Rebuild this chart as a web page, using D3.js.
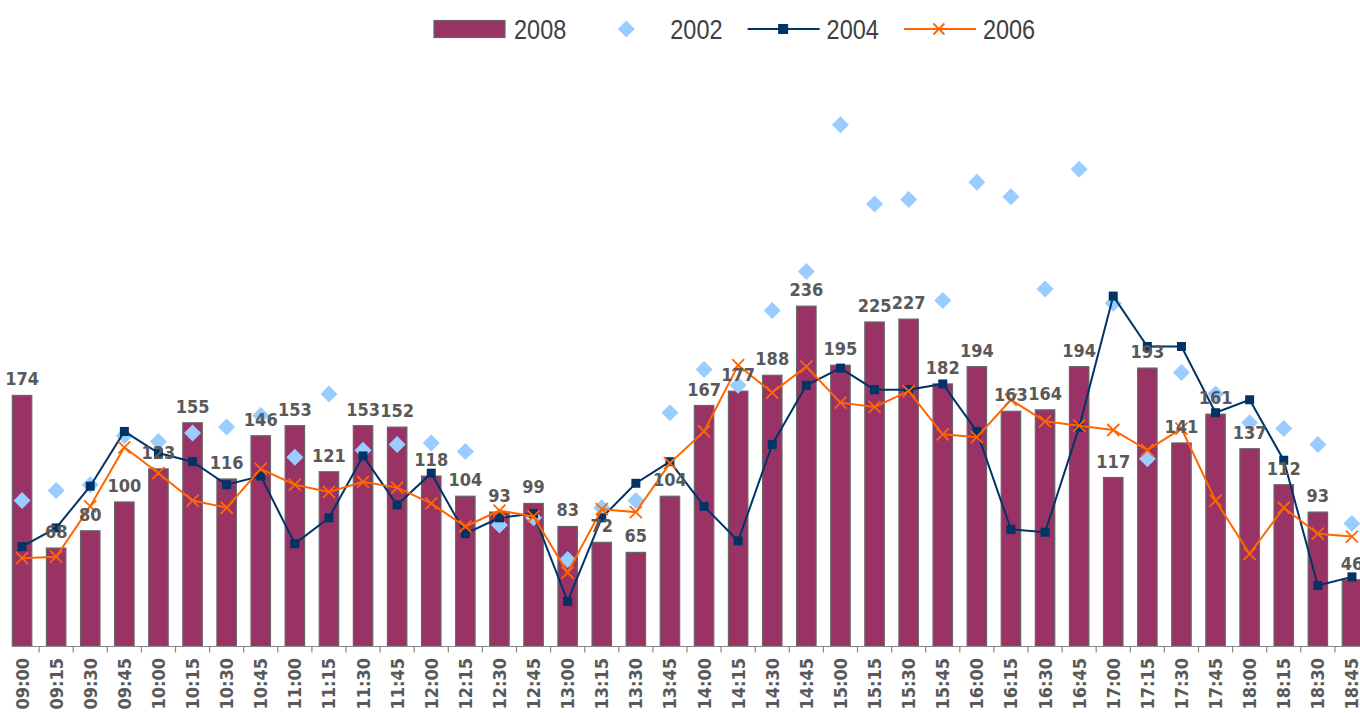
<!DOCTYPE html>
<html>
<head>
<meta charset="utf-8">
<script src="https://cdn.jsdelivr.net/npm/d3@7"></script>
<style>
  body { margin: 0; background: #fff; }
  svg { display: block; }
</style>
</head>
<body>
<div id="chart"></div>
<script>
// time slots (x axis)
var times = ["09:00","09:15","09:30","09:45","10:00","10:15","10:30","10:45",
  "11:00","11:15","11:30","11:45","12:00","12:15","12:30","12:45",
  "13:00","13:15","13:30","13:45","14:00","14:15","14:30","14:45",
  "15:00","15:15","15:30","15:45","16:00","16:15","16:30","16:45",
  "17:00","17:15","17:30","17:45","18:00","18:15","18:30","18:45"];

// 2008 - bars
var v2008 = [174,68,80,100,123,155,116,146,153,121,153,152,118,104,93,99,
  83,72,65,104,167,177,188,236,195,225,227,182,194,163,164,194,
  117,193,141,161,137,112,93,46];

// 2002 - diamonds only
var v2002 = [101,108,112,146,142,148,152,160,131,175,136,140,141,135,84,89,
  60,96,101,162,192,181,233,260,362,307,310,240,322,312,248,331,
  238,130,190,175,155,151,140,85];

// 2004 - navy line with squares
var v2004 = [69,82,111,149,134,128,112,118,71,89,132,98,120,78,89,92,
  31,89,113,128,97,73,140,181,193,178,178,182,149,81,79,152,
  243,208,208,162,171,129,42,48];

// 2006 - orange line with x
var v2006 = [61,62,97,138,120,101,96,123,112,107,114,110,99,83,94,90,
  51,95,93,127,149,195,176,194,169,166,177,147,145,171,156,153,
  150,136,151,101,64,96,78,76];

var legendNames = ["2008","2002","2004","2006"];

var width = 1360, height = 713;
var cBar = "#993366", cDiamond = "#99ccff", cNavy = "#003366", cOrange = "#ff6600";
var labelFont = "'DejaVu Sans Condensed', 'DejaVu Sans', sans-serif";

var svg = d3.select("#chart")
  .append("svg")
  .attr("width", width)
  .attr("height", height);

// scales
var x = d3.scaleBand()
  .domain(times)
  .range([5, 1369])
  .paddingInner(0.43)
  .paddingOuter(0.215);

var y = d3.scaleLinear()
  .domain([0, 400])
  .range([646, 70]);

var cx = function(i) { return x(times[i]) + x.bandwidth() / 2; };

// bars
svg.append("g")
  .selectAll("rect")
  .data(v2008)
  .enter()
  .append("rect")
    .attr("x", function(d, i) { return x(times[i]); })
    .attr("y", function(d) { return y(d); })
    .attr("width", x.bandwidth())
    .attr("height", function(d) { return y(0) - y(d); })
    .attr("fill", cBar)
    .attr("stroke", "#666")
    .attr("stroke-width", 1.2);

// x axis: baseline, boundary ticks, labels
var axisG = svg.append("g").attr("transform", "translate(0," + (y(0) + 0.5) + ")");
axisG.append("line")
  .attr("x1", x(times[0]) - 0.5)
  .attr("x2", width)
  .attr("stroke", "#888")
  .attr("stroke-width", 1.2);
axisG.selectAll(".bt")
  .data(times.slice(1))
  .enter()
  .append("line")
    .attr("x1", function(d) { return x(d) - x.step() * x.paddingInner() / 2; })
    .attr("x2", function(d) { return x(d) - x.step() * x.paddingInner() / 2; })
    .attr("y1", 0)
    .attr("y2", 6)
    .attr("stroke", "#888")
    .attr("stroke-width", 1.2);

var xAxis = svg.append("g")
  .attr("transform", "translate(0," + y(0) + ")")
  .call(d3.axisBottom(x).tickSize(0));
xAxis.select(".domain").remove();
xAxis.selectAll("text")
  .attr("transform", "rotate(-90)")
  .attr("x", -12)
  .attr("y", 0)
  .attr("dy", "0.36em")
  .style("text-anchor", "end")
  .style("font-family", labelFont)
  .style("font-weight", "bold")
  .style("font-size", "18px")
  .style("fill", "#595959");

// 2002 diamonds
var diamond = function(h) { return "M0," + (-h) + "L" + h + ",0L0," + h + "L" + (-h) + ",0Z"; };
svg.append("g")
  .selectAll("path")
  .data(v2002)
  .enter()
  .append("path")
    .attr("d", diamond(8.5))
    .attr("transform", function(d, i) { return "translate(" + cx(i) + "," + y(d) + ")"; })
    .attr("fill", cDiamond);

// 2004 line
var line = d3.line()
  .x(function(d, i) { return cx(i); })
  .y(function(d) { return y(d); });

svg.append("path")
  .datum(v2004)
  .attr("d", line)
  .attr("fill", "none")
  .attr("stroke", cNavy)
  .attr("stroke-width", 2);
svg.append("g")
  .selectAll("rect")
  .data(v2004)
  .enter()
  .append("rect")
    .attr("x", function(d, i) { return cx(i) - 4.5; })
    .attr("y", function(d) { return y(d) - 4.5; })
    .attr("width", 9)
    .attr("height", 9)
    .attr("fill", cNavy);

// 2006 line
var cross = function(h) { return "M" + (-h) + "," + (-h) + "L" + h + "," + h + "M" + (-h) + "," + h + "L" + h + "," + (-h); };
svg.append("path")
  .datum(v2006)
  .attr("d", line)
  .attr("fill", "none")
  .attr("stroke", cOrange)
  .attr("stroke-width", 2);
svg.append("g")
  .selectAll("path")
  .data(v2006)
  .enter()
  .append("path")
    .attr("d", cross(6))
    .attr("transform", function(d, i) { return "translate(" + cx(i) + "," + y(d) + ")"; })
    .attr("stroke", cOrange)
    .attr("stroke-width", 1.8)
    .attr("fill", "none");

// bar value labels
svg.append("g")
  .selectAll("text")
  .data(v2008)
  .enter()
  .append("text")
    .attr("x", function(d, i) { return cx(i); })
    .attr("y", function(d) { return y(d) - 10; })
    .attr("text-anchor", "middle")
    .style("font-family", labelFont)
    .style("font-weight", "bold")
    .style("font-size", "18px")
    .style("fill", "#595959")
    .text(function(d) { return d; });

// legend
var legX = 434, legStep = 156.3, legY = 29;
var leg = svg.append("g");
legendNames.forEach(function(name, i) {
  var gx = legX + i * legStep;
  var g = leg.append("g").attr("transform", "translate(" + gx + "," + legY + ")");
  if (i == 0) {
    g.append("rect")
      .attr("x", 0).attr("y", -8.5)
      .attr("width", 71).attr("height", 17)
      .attr("fill", cBar).attr("stroke", "#666").attr("stroke-width", 1.2);
  } else if (i == 1) {
    g.append("path").attr("d", diamond(8.5))
      .attr("transform", "translate(36,0)")
      .attr("fill", cDiamond);
  } else {
    var col = i == 2 ? cNavy : cOrange;
    g.append("line")
      .attr("x1", 1).attr("x2", 73)
      .attr("stroke", col).attr("stroke-width", 2);
    if (i == 2) {
      g.append("rect").attr("x", 31.5).attr("y", -5).attr("width", 10).attr("height", 10).attr("fill", cNavy);
    } else {
      g.append("path").attr("d", cross(5.5)).attr("transform", "translate(36,0)")
        .attr("stroke", cOrange).attr("stroke-width", 1.8);
    }
  }
  // narrow look: squeeze Liberation Sans horizontally
  g.append("text")
    .attr("transform", "translate(80,10) scale(0.84,1)")
    .style("font-family", "'Liberation Sans', Arial, sans-serif")
    .style("font-size", "28px")
    .style("fill", "#404040")
    .text(name);
});
</script>
</body>
</html>
